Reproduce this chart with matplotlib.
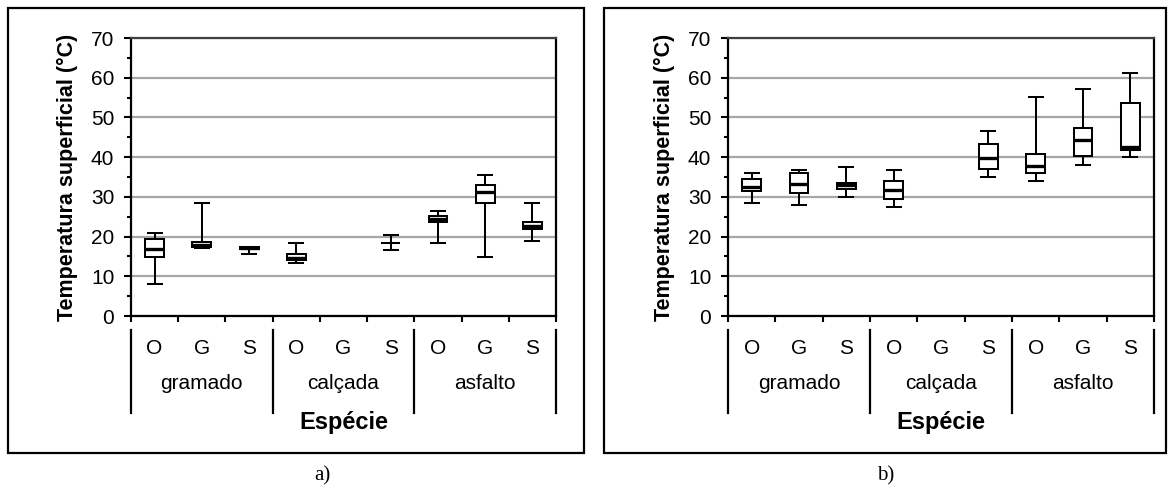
import matplotlib
matplotlib.use("Agg")
import matplotlib.pyplot as plt
from matplotlib.patches import Rectangle
import matplotlib.transforms as mtransforms

plt.rcParams['font.family'] = ['Liberation Sans', 'DejaVu Sans']

species = ["O", "G", "S"]
surfaces = ["gramado", "calçada", "asfalto"]
ylabel = "Temperatura superficial (°C)"
xlabel = "Espécie"
captions = ["a)", "b)"]

# stats per box: (min, q1, median, q3, max); None = no data
panel_a = [
    (8.0, 14.9, 16.8, 19.5, 21.0),   # gramado O
    (17.2, 17.3, 18.0, 18.7, 28.5),  # gramado G
    (15.5, 16.9, 17.1, 17.4, 17.5),  # gramado S
    (13.4, 14.2, 14.7, 15.6, 18.5),  # calçada O
    None,                            # calçada G
    (16.5, 18.5, 18.5, 18.5, 20.5),  # calçada S
    (18.4, 23.7, 24.3, 25.2, 26.5),  # asfalto O
    (14.9, 28.4, 31.3, 33.0, 35.6),  # asfalto G
    (19.0, 21.8, 22.7, 23.6, 28.4),  # asfalto S
]
panel_b = [
    (28.4, 31.4, 32.6, 34.4, 36.0),  # gramado O
    (27.9, 30.9, 33.3, 36.0, 36.8),  # gramado G
    (30.0, 32.1, 32.9, 33.5, 37.6),  # gramado S
    (27.4, 29.4, 31.8, 33.9, 36.8),  # calçada O
    None,                            # calçada G
    (35.0, 37.1, 39.8, 43.4, 46.6),  # calçada S
    (34.0, 35.9, 37.8, 40.9, 55.2),  # asfalto O
    (38.0, 40.4, 44.3, 47.4, 57.2),  # asfalto G
    (40.0, 41.9, 42.6, 53.6, 61.2),  # asfalto S
]
panels = [panel_a, panel_b]

W, H = 1171, 486
fig = plt.figure(figsize=(W / 100, H / 100), dpi=100)

axes_px = [(131, 556), (728, 1154)]
frames_px = [(8, 584), (604, 1166)]
caption_x = [322, 886]
ax_top, ax_bot = 38, 316

for i, data in enumerate(panels):
    x0, x1 = axes_px[i]
    ax = fig.add_axes([x0 / W, 1 - ax_bot / H, (x1 - x0) / W, (ax_bot - ax_top) / H])
    stats = []
    positions = []
    for k, s in enumerate(data):
        if s is None:
            continue
        stats.append(dict(whislo=s[0], q1=s[1], med=s[2], q3=s[3], whishi=s[4], fliers=[]))
        positions.append(k)
    res = ax.bxp(stats, positions=positions, widths=0.4, patch_artist=True,
                 showfliers=False, manage_ticks=False,
                 boxprops=dict(facecolor='white', edgecolor='black', linewidth=1.45),
                 medianprops=dict(color='black', linewidth=2.4, solid_capstyle='butt'),
                 whiskerprops=dict(color='black', linewidth=1.45),
                 capprops=dict(color='black', linewidth=1.45),
                 capwidths=0.3)
    for b in res['boxes']:
        b.set_zorder(3)
    for m, st in zip(res['medians'], stats):
        m.set_zorder(4)
        if st['q1'] == st['q3']:
            m.set_linewidth(1.45)
    ax.set_xlim(-0.5, 8.5)
    ax.set_ylim(0, 70)
    ax.set_yticks(range(0, 71, 10))
    ax.set_yticks(range(5, 70, 10), minor=True)
    ax.yaxis.grid(True, which='major', color='#a6a6a6', linewidth=1.6)
    ax.set_axisbelow(True)
    ax.tick_params(axis='y', which='major', direction='out', length=5, width=1.5,
                   labelsize=15, pad=7, colors='black')
    ax.tick_params(axis='y', which='minor', direction='out', length=3, width=1.5)
    ax.set_xticks([x - 0.5 for x in range(10)])
    ax.set_xticklabels([])
    ax.tick_params(axis='x', which='major', direction='out', length=4.5, width=1.5)
    for sp in ax.spines.values():
        sp.set_linewidth(1.6)
        sp.set_color('black')
    ax.spines['top'].set_color('#404040')

    trans = mtransforms.blended_transform_factory(ax.transData, ax.transAxes)
    hgt = ax_bot - ax_top
    for k in range(9):
        ax.text(k, (ax_bot - 348) / hgt, species[k % 3], transform=trans,
                ha='center', va='center', fontsize=15)
    for g in range(3):
        ax.text(3 * g + 1, (ax_bot - 383) / hgt, surfaces[g], transform=trans,
                ha='center', va='center', fontsize=15)
    for xb in [-0.5, 2.5, 5.5, 8.5]:
        ax.plot([xb, xb], [(ax_bot - 330) / hgt, (ax_bot - 413) / hgt], transform=trans,
                color='black', linewidth=1.6, clip_on=False)
    ax.text(4, (ax_bot - 422) / hgt, xlabel, transform=trans, ha='center', va='center',
            fontsize=17, fontweight='bold')
    ax.set_ylabel(ylabel, fontsize=15.5, fontweight='bold', labelpad=9)

    f0, f1 = frames_px[i]
    fig.patches.append(Rectangle((f0 / W, 1 - 453 / H), (f1 - f0) / W, (453 - 8) / H,
                                 transform=fig.transFigure, fill=False,
                                 edgecolor='black', linewidth=1.6))
    fig.text(caption_x[i] / W, 1 - 476 / H, captions[i], ha='center', va='center',
             fontsize=15, family=['Liberation Serif', 'DejaVu Serif'])

fig.savefig("out.png", dpi=100)
